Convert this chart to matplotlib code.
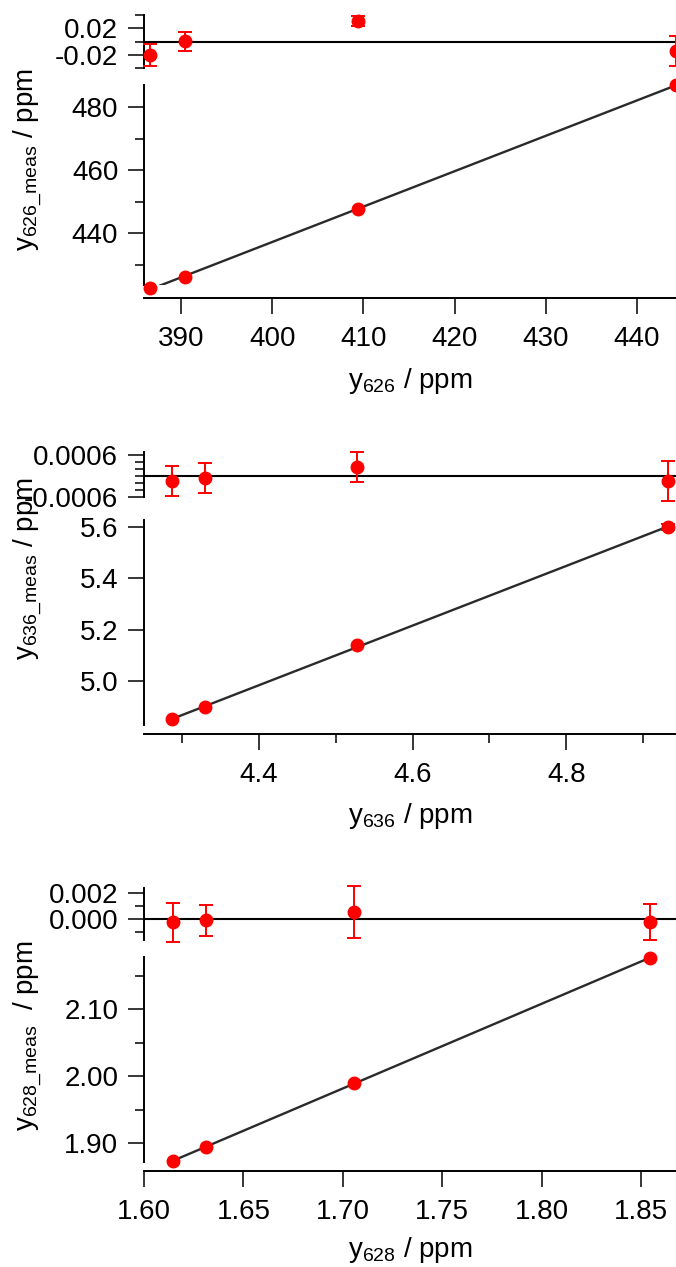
import numpy as np
import matplotlib
matplotlib.use('Agg')
import matplotlib.pyplot as plt

plt.rcParams['font.family'] = ['Liberation Sans', 'DejaVu Sans']
plt.rcParams['mathtext.fontset'] = 'custom'
plt.rcParams['mathtext.rm'] = 'Liberation Sans'
plt.rcParams['mathtext.default'] = 'regular'
plt.rcParams['axes.unicode_minus'] = False

# --- data ---
# 626
x626 = [386.6, 390.4, 409.4, 444.3]
y626_meas = [422.5, 426.0, 447.6, 487.0]
res626 = [-0.0204, 0.0004, 0.031, -0.014]
res626_err = [0.0167, 0.014, 0.008, 0.023]

# 636
x636 = [4.287, 4.330, 4.528, 4.932]
y636_meas = [4.851, 4.901, 5.139, 5.599]
y636_err = [np.nan, np.nan, np.nan, 0.012]
res636 = [-0.000143, -0.000057, 0.00026, -0.000143]
res636_err = [0.00044, 0.00044, 0.00043, 0.00056]

# 628
x628 = [1.6146, 1.6314, 1.7054, 1.8545]
y628_meas = [1.8736, 1.8945, 1.990, 2.1765]
res628 = [-0.00023, -0.00008, 0.00054, -0.00023]
res628_err = [0.0015, 0.0012, 0.0020, 0.0014]

W, H = 676, 1267
fig = plt.figure(figsize=(W / 100, H / 100), dpi=100)

FS = 20
RED = '#ff0000'


def px_axes(x0, y0, x1, y1):
    return fig.add_axes([x0 / W, 1 - y1 / H, (x1 - x0) / W, (y1 - y0) / H])


def style(ax, bottom=True, offset=9):
    for s in ['top', 'right']:
        ax.spines[s].set_visible(False)
    ax.spines['left'].set_linewidth(1.4)
    if bottom:
        ax.spines['bottom'].set_linewidth(1.4)
        ax.spines['bottom'].set_position(('outward', offset * 0.72))
        ax.tick_params(axis='x', which='major', pad=9)
    else:
        ax.spines['bottom'].set_visible(False)
        ax.tick_params(axis='x', which='both', bottom=False, labelbottom=False)
    ax.tick_params(which='major', length=11.5, width=1.1, labelsize=FS, direction='out')
    ax.tick_params(axis='y', which='major', pad=7)
    ax.tick_params(which='minor', length=6.5, width=1.1, direction='out')
    ax.set_facecolor('none')


def panel(res_y, main_y, off, x, y, yerr, res, rerr, xlim,
          rlim, rticks, rlabels, rminor, ylim, yticks, ylabels, yminor,
          xticks, xlabels, xminor, xlabel, ylabel, ylab_y, xlab_y):
    r0, r1 = res_y
    m0, m1 = main_y
    axr = px_axes(144, r0, W, r1)
    axm = px_axes(144, m0, W, m1)

    # residuals
    axr.axhline(0, color='k', lw=1.5, zorder=1)
    axr.errorbar(x, res, yerr=rerr, fmt='o', color=RED, ms=9, capsize=5,
                 elinewidth=1.4, capthick=1.4, clip_on=False, zorder=3)
    axr.set_xlim(*xlim)
    axr.set_ylim(*rlim)
    axr.set_yticks(rticks, rlabels)
    axr.set_yticks(rminor, minor=True)
    style(axr, bottom=False)

    # main
    k, b = np.polyfit(x, y, 1)
    xf = np.array([min(x), max(x)])
    axm.plot(xf, k * xf + b, color='#2a2a2a', lw=1.7, zorder=2)
    axm.errorbar(x, y, yerr=yerr, fmt='o', color=RED, ms=9, capsize=5,
                 elinewidth=1.4, capthick=1.4, clip_on=False, zorder=3)
    axm.set_xlim(*xlim)
    axm.set_ylim(*ylim)
    axm.set_yticks(yticks, ylabels)
    axm.set_yticks(yminor, minor=True)
    axm.set_xticks(xticks, xlabels)
    axm.set_xticks(xminor, minor=True)
    style(axm, bottom=True, offset=off)

    fig.text(410 / W, 1 - xlab_y / H, xlabel, fontsize=FS, ha='center', va='center')
    fig.text(28 / W, 1 - ylab_y / H, ylabel, fontsize=FS, ha='center', va='center',
             rotation=90)


panel((15, 68), (85, 285), 13, x626, y626_meas, None, res626, res626_err,
      (385.94, 444.28),
      (-0.0357, 0.04), [-0.02, 0.02], ['-0.02', '0.02'], [-0.04, 0.0, 0.04],
      (423.5, 487.0), [440, 460, 480], ['440', '460', '480'], [430, 450, 470],
      [390, 400, 410, 420, 430, 440], ['390', '400', '410', '420', '430', '440'], [],
      r'y$_{626}$ / ppm', r'y$_{626\_meas}$ / ppm', 160, 381)

panel((452, 497), (520, 725), 9, x636, y636_meas, y636_err, res636, res636_err,
      (4.250, 4.943),
      (-0.0006, 0.000686), [-0.0006, 0.0006], ['-0.0006', '0.0006'],
      [-0.0004, -0.0002, 0.0, 0.0002, 0.0004],
      (4.829, 5.627), [5.0, 5.2, 5.4, 5.6], ['5.0', '5.2', '5.4', '5.6'], [],
      [4.4, 4.6, 4.8], ['4.4', '4.6', '4.8'], [4.3, 4.5, 4.7, 4.9],
      r'y$_{636}$ / ppm', r'y$_{636\_meas}$ / ppm', 569, 816)

panel((888, 940), (957, 1162), 9, x628, y628_meas, None, res628, res628_err,
      (1.600, 1.8676),
      (-0.0016, 0.0024), [0.0, 0.002], ['0.000', '0.002'], [-0.001, 0.001],
      (1.872, 2.178), [1.90, 2.00, 2.10], ['1.90', '2.00', '2.10'], [1.95, 2.05, 2.15],
      [1.60, 1.65, 1.70, 1.75, 1.80, 1.85], ['1.60', '1.65', '1.70', '1.75', '1.80', '1.85'], [],
      r'y$_{628}$ / ppm', r'y$_{628\_meas}$  / ppm', 1036, 1250)

fig.savefig('out.png', dpi=100)
